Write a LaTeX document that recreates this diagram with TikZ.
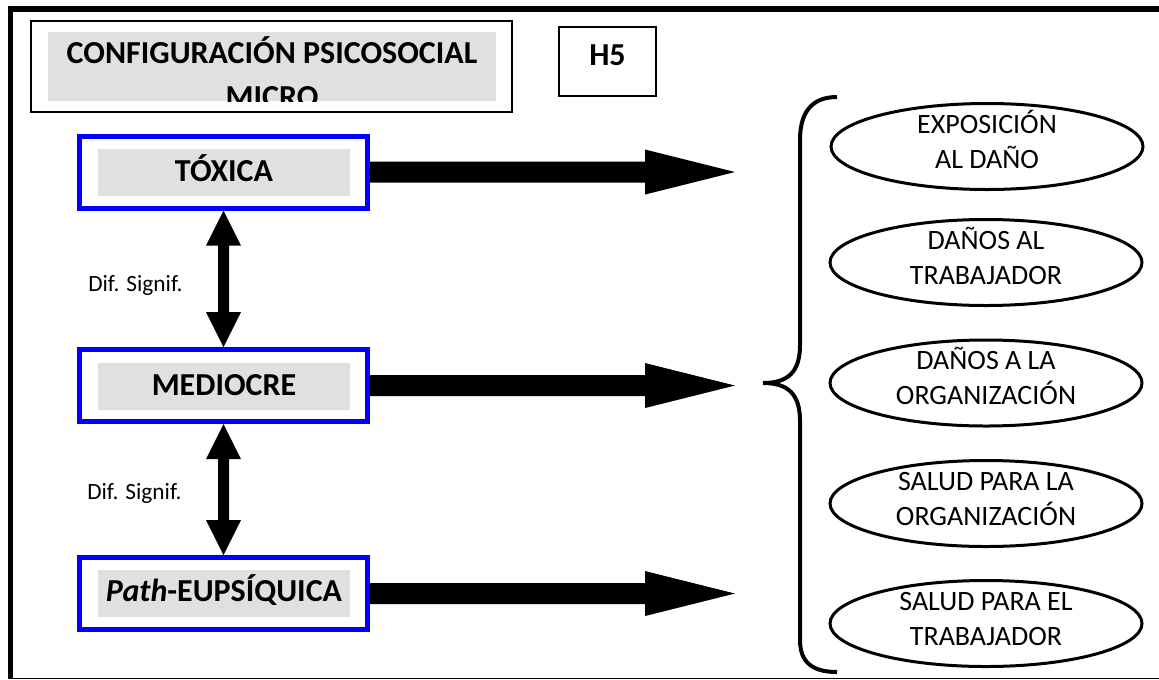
\documentclass[tikz,border=0pt]{standalone}
\usepackage{fontspec}
\setmainfont{Carlito}
\usetikzlibrary{shapes.geometric,calc}

\definecolor{boxgrey}{RGB}{224,224,224}
\definecolor{pureblue}{RGB}{0,0,255}

% thick horizontal arrow from a node anchor to an end coordinate
\newcommand\fatarrow[2]{%
  \fill let \p1=(#1), \p2=(#2) in
    (\x1,{\y1+7.875pt}) -- ({\x2-67.5pt},{\y1+7.875pt}) -- ({\x2-67.5pt},{\y1+16.875pt})
    -- (\x2,\y1) -- ({\x2-67.5pt},{\y1-16.875pt}) -- ({\x2-67.5pt},{\y1-7.875pt})
    -- (\x1,{\y1-7.875pt}) -- cycle;}

% vertical double-headed arrow between two node anchors
\newcommand\dblarrow[2]{%
  \fill let \p1=(#1), \p2=(#2) in
    (\x1,\y1) -- ({\x1+13.125pt},{\y1-26.25pt}) -- ({\x1+4.125pt},{\y1-26.25pt})
    -- ({\x1+4.125pt},{\y2+26.25pt}) -- ({\x1+13.125pt},{\y2+26.25pt}) -- (\x1,\y2)
    -- ({\x1-13.125pt},{\y2+26.25pt}) -- ({\x1-4.125pt},{\y2+26.25pt})
    -- ({\x1-4.125pt},{\y1-26.25pt}) -- ({\x1-13.125pt},{\y1-26.25pt}) -- cycle;}

\begin{document}
\begin{tikzpicture}[x=0.75pt,y=-0.75pt,
  bluebox/.style={draw=pureblue, line width=3.75pt, minimum width=216pt,
    minimum height=54pt, inner sep=0pt},
  greyfill/.style={fill=boxgrey, draw=none, inner sep=0pt},
  innergrey/.style={greyfill, minimum width=189pt, minimum height=35.25pt},
  boxlabel/.style={font=\bfseries\fontsize{24pt}{29pt}\selectfont, inner sep=0pt, anchor=base},
  oval/.style={ellipse, draw, line width=2.25pt, minimum width=234pt,
    minimum height=64.5pt, inner sep=0pt},
  ovaltext/.style={font=\fontsize{21pt}{26pt}\selectfont, inner sep=0pt, anchor=base},
  sidenote/.style={font=\fontsize{17.5pt}{21pt}\selectfont, inner sep=0pt, anchor=base west},
  thinbox/.style={draw, line width=1.1pt, inner sep=0pt}
]
\useasboundingbox (0,0) rectangle (1159,679);

% page frame
\fill (8,6) rectangle (1159,12);
\fill (8,6) rectangle (13,678);
\draw[line width=0.75pt] (8,678) -- (1159,678);

% heading box
\node[thinbox, minimum width=360.75pt, minimum height=68.25pt] (ttl) at (271.5,66.5) {};
\node[greyfill, minimum width=336pt, minimum height=51.75pt] (ttlg) at (272,66.5) {};
\begin{scope}
  \clip (48,32) rectangle (496,101);
  \node[boxlabel] (ttl1) at (272,63) {CONFIGURACIÓN PSICOSOCIAL};
  \node[boxlabel] (ttl2) at (272,107.5) {MICRO};
\end{scope}

% hypothesis tag
\node[thinbox, minimum width=72.75pt, minimum height=51.75pt] (h5) at (607.5,61.5) {};
\node[boxlabel] (h5t) at (607.5,65) {H5};

% configuration boxes
\node[bluebox] (tox) at (223.5,172) {};
\node[innergrey] (toxg) at (224,172.5) {};
\node[boxlabel] (toxt) at (224,181.5) {TÓXICA};

\node[bluebox] (med) at (223.5,385.5) {};
\node[innergrey] (medg) at (224,386.5) {};
\node[boxlabel] (medt) at (224,395.5) {MEDIOCRE};

\node[bluebox] (eup) at (223.5,593.5) {};
\node[innergrey] (eupg) at (224,593.5) {};
\node[boxlabel] (eupt) at (224,601) {\textit{Path}-EUPSÍQUICA};

% differences between configurations
\dblarrow{tox.south}{med.north}
\dblarrow{med.south}{eup.north}
\node[sidenote] (d1) at (88,291) {Dif. Signif.};
\node[sidenote] (d2) at (87,499) {Dif. Signif.};

% arrows towards the outcomes
\coordinate (r1) at (735,172);
\coordinate (r2) at (735,386);
\coordinate (r3) at (735,590);
\fatarrow{tox.east}{r1}
\fatarrow{med.east}{r2}
\fatarrow{eup.east}{r3}

% curly brace
\draw[line width=3pt] (837,97) .. controls (812,97) and (800,112) .. (800,140)
  -- (800,345) .. controls (800,372) and (788,383) .. (763,383)
  .. controls (788,383) and (800,394) .. (800,421)
  -- (800,640) .. controls (800,662) and (812,672) .. (837,672);

% outcomes
\node[oval] (e1) at (987,146.5) {};
\node[ovaltext] (e1a) at ([yshift=10.125pt]e1.center) {EXPOSICIÓN};
\node[ovaltext] (e1b) at ([yshift=-16.125pt]e1.center) {AL DAÑO};

\node[oval] (e2) at (986,262.5) {};
\node[ovaltext] (e2a) at ([yshift=10.125pt]e2.center) {DAÑOS AL};
\node[ovaltext] (e2b) at ([yshift=-16.125pt]e2.center) {TRABAJADOR};

\node[oval] (e3) at (986,383) {};
\node[ovaltext] (e3a) at ([yshift=10.125pt]e3.center) {DAÑOS A LA};
\node[ovaltext] (e3b) at ([yshift=-16.125pt]e3.center) {ORGANIZACIÓN};

\node[oval] (e4) at (986,503.5) {};
\node[ovaltext] (e4a) at ([yshift=10.125pt]e4.center) {SALUD PARA LA};
\node[ovaltext] (e4b) at ([yshift=-16.125pt]e4.center) {ORGANIZACIÓN};

\node[oval] (e5) at (986,623.5) {};
\node[ovaltext] (e5a) at ([yshift=10.125pt]e5.center) {SALUD PARA EL};
\node[ovaltext] (e5b) at ([yshift=-16.125pt]e5.center) {TRABAJADOR};
\end{tikzpicture}
\end{document}
